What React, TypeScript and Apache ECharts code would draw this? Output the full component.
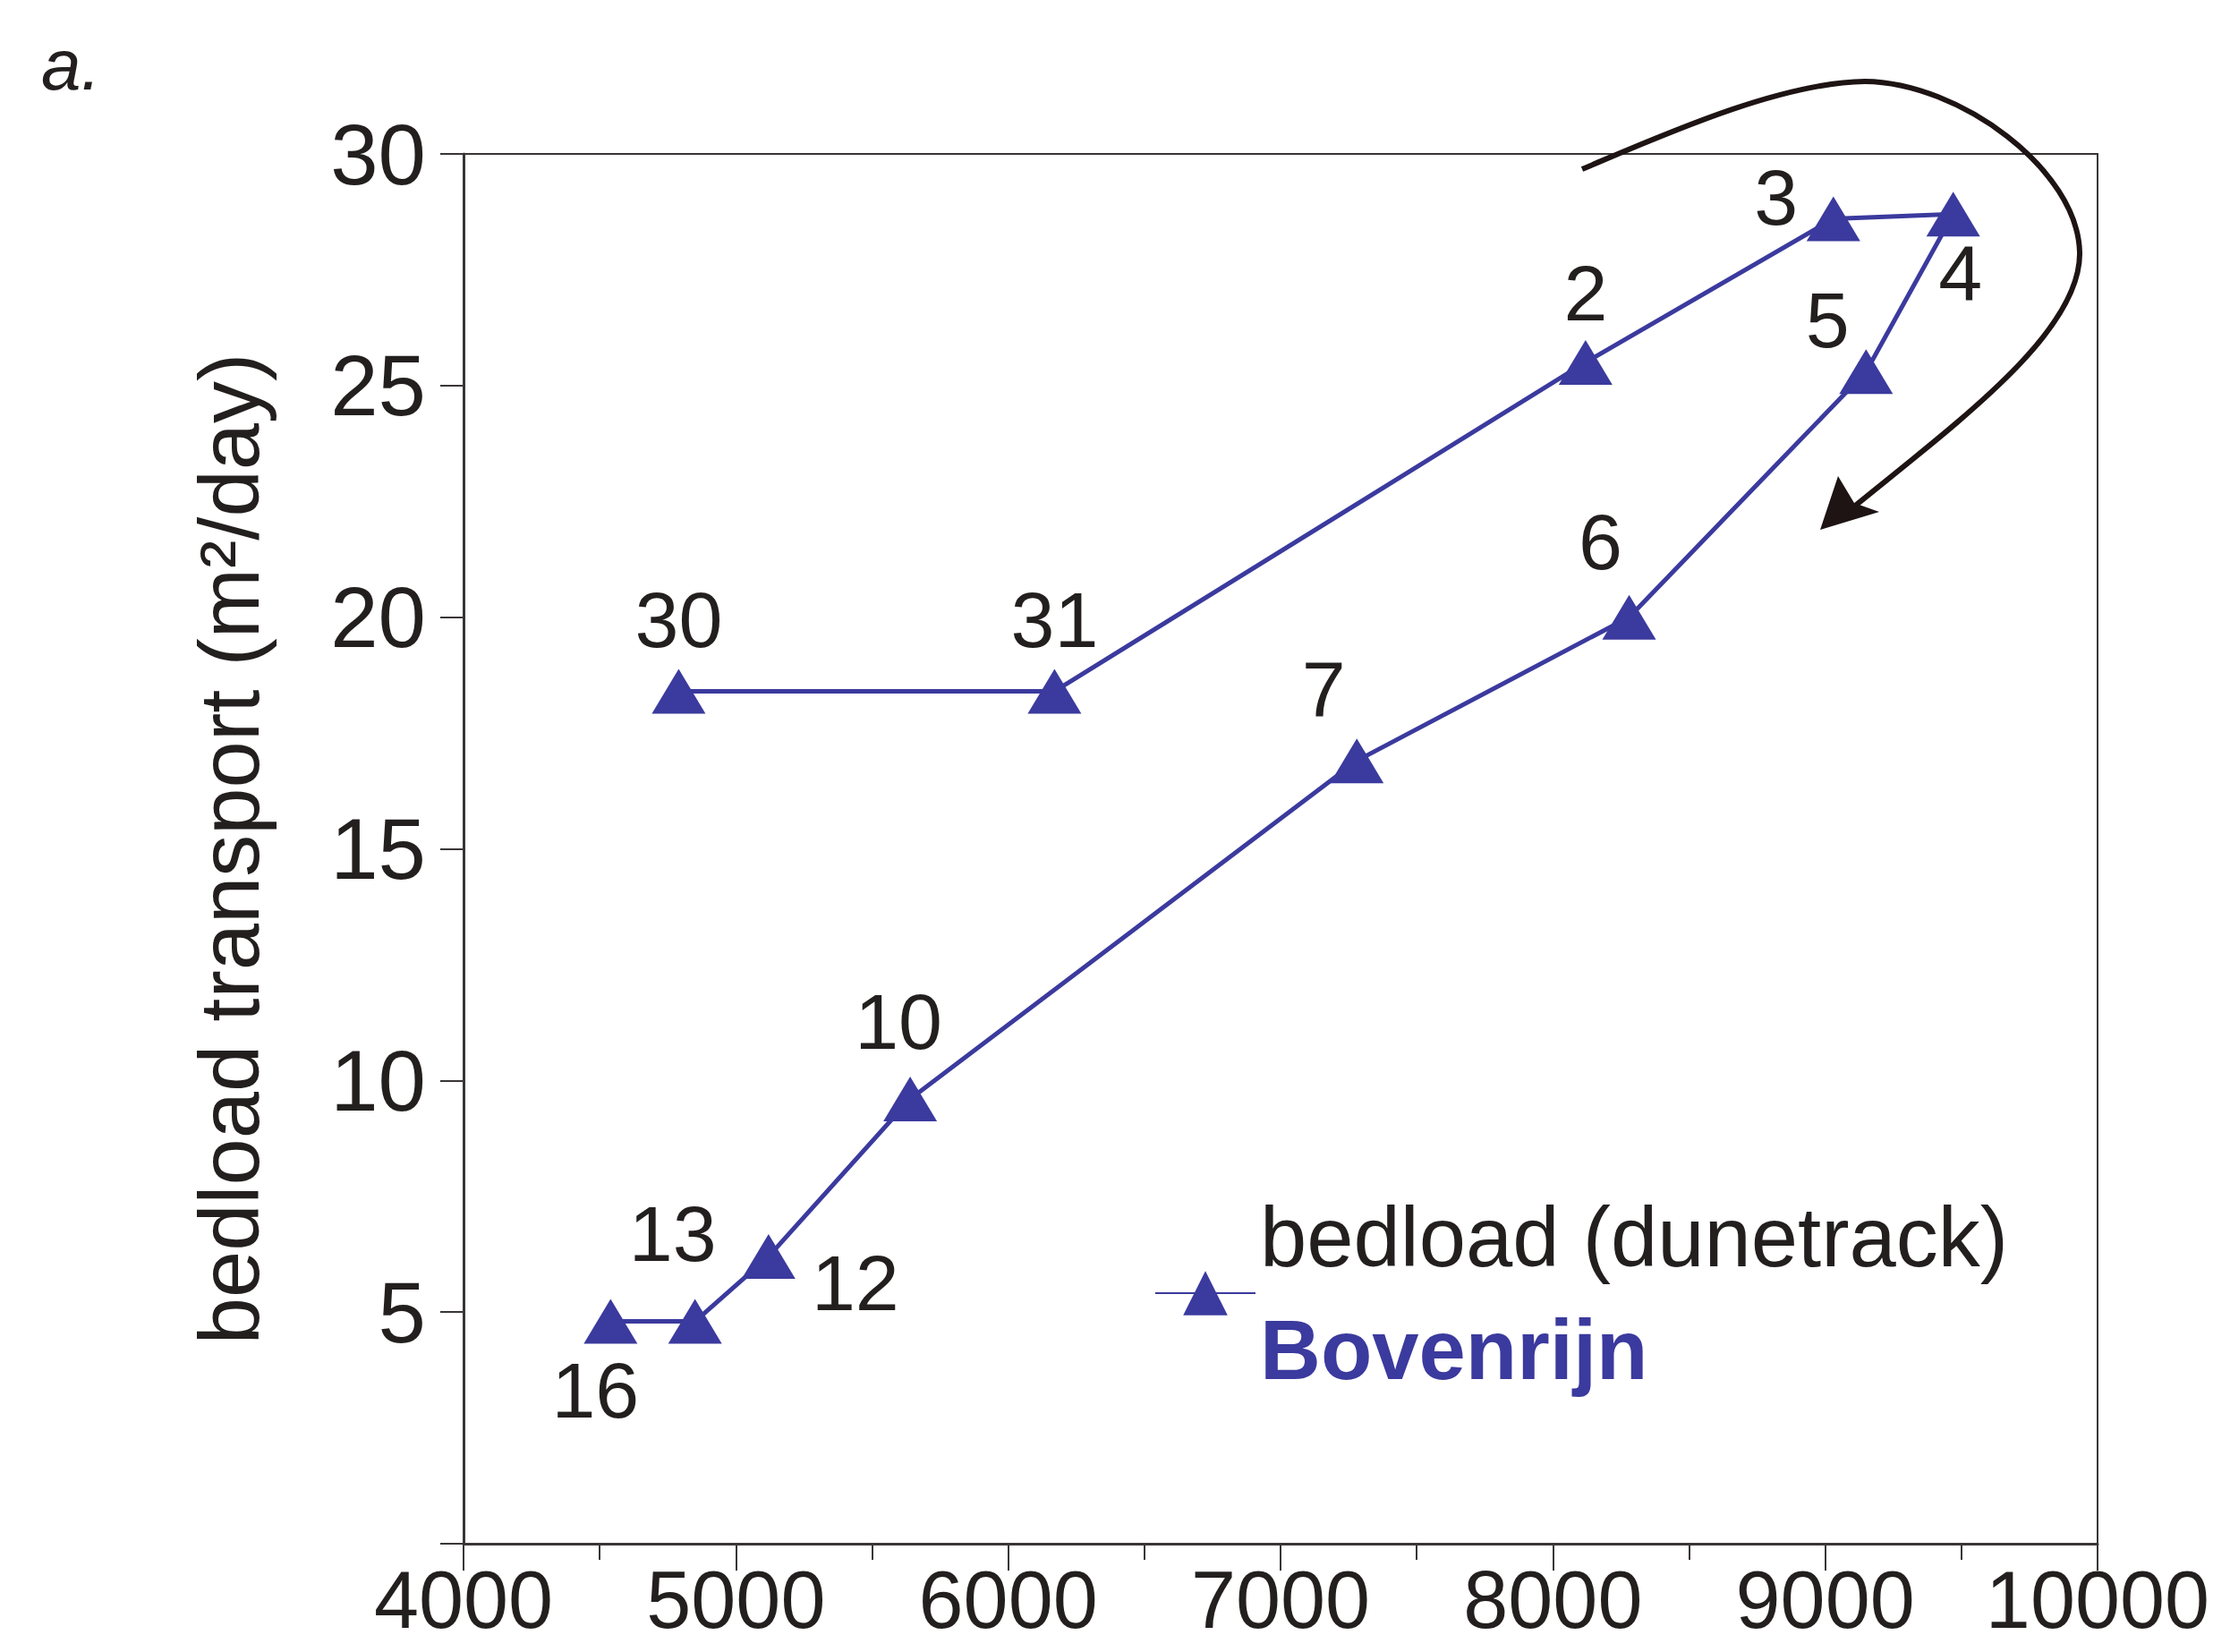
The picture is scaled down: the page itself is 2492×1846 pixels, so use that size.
import React, { useEffect, useRef } from "react";
import * as echarts from "echarts";

// Day-of-month labels for each observation (hysteresis loop order)
const dayLabels = ["30", "31", "2", "3", "4", "5", "6", "7", "10", "12", "13", "16"];
// Discharge (m3/s) on the x axis
const discharge = [4790, 6170, 8120, 9030, 9470, 9150, 8280, 7280, 5640, 5120, 4850, 4540];
// Bedload transport (m2/day) on the y axis
const bedload = [18.4, 18.4, 25.5, 28.6, 28.7, 25.3, 20.0, 16.9, 9.6, 6.2, 4.8, 4.8];
// Axis tick values
const xTicks = [4000, 5000, 6000, 7000, 8000, 9000, 10000];
const yTicks = [0, 5, 10, 15, 20, 25, 30];

// label offsets (pixels) relative to each marker – style only
const labelOffsets: [number, number][] = [
  [0, -80], [0, -80], [0, -77], [-64, -24], [8, 66], [-43, -58],
  [-32, -84], [-37, -80], [-13, -87], [97, 29], [-25, -98], [-17, 77],
];

const BLUE = "#3b3a9e";
const INK = "#231f1f";
const FONT = "'Liberation Sans', 'Noto Sans', sans-serif";

echarts.graphic.registerShape(
  "loopArrow",
  echarts.graphic.extendPath(
    "M1768,189 C1860,150 1990,92 2084,91 C2190,92 2322,190 2324,282 C2326,370 2190,470 2072,566",
    {}
  )
);

export default function App() {
  const ref = useRef<HTMLDivElement>(null);
  useEffect(() => {
    if (!ref.current) return;
    const chart = echarts.init(ref.current, undefined, { renderer: "svg" });
    const data = discharge.map((x, i) => ({
      value: [x, bedload[i]],
      name: dayLabels[i],
      label: { offset: labelOffsets[i] },
    }));
    chart.setOption({
      animation: false,
      backgroundColor: "#ffffff",
      grid: {
        left: 518,
        right: 148,
        top: 172,
        bottom: 121,
        show: true,
        borderColor: "#3a3535",
        borderWidth: 2,
        backgroundColor: "transparent",
      },
      xAxis: {
        type: "value",
        min: xTicks[0],
        max: xTicks[xTicks.length - 1],
        interval: 1000,
        splitLine: { show: false },
        axisLine: { show: true, lineStyle: { color: "#3a3535", width: 3 } },
        axisTick: { show: true, inside: false, length: 30, lineStyle: { color: "#3a3535", width: 2 } },
        minorTick: { show: true, splitNumber: 2, length: 18, lineStyle: { color: "#3a3535", width: 2 } },
        axisLabel: {
          fontSize: 90,
          lineHeight: 90,
          color: INK,
          fontFamily: FONT,
          margin: 18,
          formatter: (v: number) => String(v),
        },
      },
      yAxis: {
        type: "value",
        min: yTicks[0],
        max: yTicks[yTicks.length - 1],
        interval: 5,
        splitLine: { show: false },
        axisLine: { show: true, lineStyle: { color: "#3a3535", width: 3 } },
        axisTick: { show: true, length: 26, lineStyle: { color: "#3a3535", width: 2 } },
        axisLabel: {
          fontSize: 96,
          color: INK,
          fontFamily: FONT,
          margin: 42,
          formatter: (v: number) => (v === 0 ? "" : String(v)),
        },
        name: "bedload transport (m²/day)",
        nameLocation: "middle",
        nameGap: 215,
        nameTextStyle: { fontSize: 94, color: INK, fontFamily: FONT },
      },
      legend: {
        left: 1285,
        top: 1330,
        orient: "vertical",
        itemWidth: 112,
        itemHeight: 62,
        itemGap: 0,
        data: ["bedload (dunetrack)"],
        formatter: () => "{a|bedload (dunetrack)}\n{b|Bovenrijn}",
        textStyle: {
          rich: {
            a: { fontSize: 94, color: INK, fontFamily: FONT, lineHeight: 126 },
            b: { fontSize: 94, color: BLUE, fontFamily: FONT, fontWeight: "bold", lineHeight: 126 },
          },
        },
      },
      series: [
        {
          name: "bedload (dunetrack)",
          type: "line",
          data,
          symbol: "triangle",
          symbolSize: [60, 50],
          lineStyle: { color: BLUE, width: 5 },
          itemStyle: { color: BLUE },
          label: {
            show: true,
            position: "inside",
            formatter: (p: any) => p.name,
            fontSize: 88,
            color: INK,
            fontFamily: FONT,
          },
        },
      ],
      graphic: [
        {
          type: "text",
          left: 46,
          top: 32,
          style: {
            text: "a.",
            fontSize: 80,
            fontStyle: "italic",
            fill: INK,
            font: "italic 80px 'Liberation Sans', sans-serif",
          },
        },
        {
          type: "loopArrow",
          x: 0,
          y: 0,
          style: { fill: "none", stroke: "#1e1414", lineWidth: 6 },
        },
        {
          type: "polygon",
          shape: {
            points: [
              [2034, 592],
              [2054, 532],
              [2072, 562],
              [2100, 572],
            ],
          },
          style: { fill: "#1e1414" },
        },
      ],
    });
    return () => chart.dispose();
  }, []);
  return (
    <div
      ref={ref}
      style={{ position: "fixed", left: 0, top: 0, width: 2492, height: 1846 }}
    />
  );
}
